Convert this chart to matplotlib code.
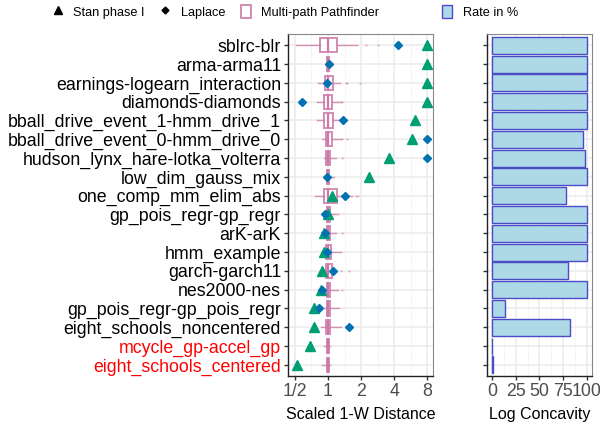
import matplotlib
matplotlib.use("Agg")
import matplotlib.pyplot as plt
import numpy as np
from matplotlib.lines import Line2D
from matplotlib.patches import Patch
from matplotlib.ticker import FixedLocator, NullFormatter

plt.rcParams['font.family'] = ['Liberation Sans', 'DejaVu Sans']

models = [
    "sblrc-blr",
    "arma-arma11",
    "earnings-logearn_interaction",
    "diamonds-diamonds",
    "bball_drive_event_1-hmm_drive_1",
    "bball_drive_event_0-hmm_drive_0",
    "hudson_lynx_hare-lotka_volterra",
    "low_dim_gauss_mix",
    "one_comp_mm_elim_abs",
    "gp_pois_regr-gp_regr",
    "arK-arK",
    "hmm_example",
    "garch-garch11",
    "nes2000-nes",
    "gp_pois_regr-gp_pois_regr",
    "eight_schools_noncentered",
    "mcycle_gp-accel_gp",
    "eight_schools_centered",
]
red_models = ["mcycle_gp-accel_gp", "eight_schools_centered"]

# multi-path pathfinder box stats (scaled 1-W distance)
pf_whislo = [0.51, 0.93, 0.81, 0.80, 0.79, 0.89, 0.92, 0.95, 0.76, 0.92,
             0.89, 0.87, 0.89, 0.92, 0.92, 0.87, 0.92, 0.89]
pf_q1 = [0.85, 0.98, 0.93, 0.92, 0.92, 0.96, 0.96, 0.97, 0.92, 0.97,
         0.97, 0.95, 0.95, 0.97, 0.97, 0.96, 0.97, 0.97]
pf_med = [1.0, 1.0, 1.0, 1.0, 1.0, 1.0, 1.0, 1.0, 1.0, 1.0,
          1.0, 1.0, 1.0, 1.0, 1.0, 1.0, 1.0, 1.0]
pf_q3 = [1.21, 1.03, 1.11, 1.09, 1.11, 1.09, 1.04, 1.03, 1.20, 1.04,
         1.04, 1.07, 1.08, 1.04, 1.04, 1.04, 1.03, 1.03]
pf_whishi = [1.85, 1.10, 1.28, 1.31, 1.50, 1.31, 1.18, 1.13, 1.67, 1.18,
             1.18, 1.31, 1.18, 1.22, 1.26, 1.31, 1.04, 1.04]
pf_fliers = [[2.2, 2.83], [], [1.45, 1.5, 1.95], [1.35], [], [1.35, 1.48],
             [1.35], [], [1.79, 1.89], [1.22], [1.35], [], [1.31, 1.56],
             [1.35], [], [], [], []]

stan_phase1 = [8.0, 8.0, 8.0, 8.0, 6.23, 5.8, 3.6, 2.35, 1.08, 1.0,
               0.92, 0.91, 0.88, 0.87, 0.75, 0.74, 0.68, 0.52]
laplace = [4.35, 1.03, 0.97, 0.58, 1.37, 8.0, 8.0, 0.97, 1.43, 0.94,
           0.94, 0.97, 1.11, 0.88, 0.83, 1.56, np.nan, np.nan]

log_concavity_rate = [100, 100, 100, 100, 100, 96, 98, 100, 78, 100,
                      100, 100, 80, 100, 14, 82, 0.4, 1.5]

pink = "#CC79A7"
green = "#009E73"
blue = "#0072B2"
grid_major = "#EBEBEB"
grid_minor = "#F4F4F4"

n = len(models)
ypos = np.arange(n)[::-1]

fig = plt.figure(figsize=(6, 4.25), dpi=100)
ax = fig.add_axes([0.48, 0.115, 0.242, 0.805])
ax2 = fig.add_axes([0.812, 0.115, 0.174, 0.805])

# left panel
stats = []
for i in range(n):
    stats.append(dict(whislo=pf_whislo[i], q1=pf_q1[i], med=pf_med[i],
                      q3=pf_q3[i], whishi=pf_whishi[i], fliers=pf_fliers[i]))
ax.bxp(stats, positions=ypos, vert=False, widths=0.75, patch_artist=True,
       showcaps=False,
       boxprops=dict(facecolor="white", edgecolor=pink, linewidth=1.4, alpha=0.85),
       medianprops=dict(color=pink, linewidth=1.6),
       whiskerprops=dict(color=pink, linewidth=1.0, alpha=0.8),
       flierprops=dict(marker="o", markersize=1.5, markerfacecolor=pink,
                       markeredgecolor="none", alpha=0.6),
       zorder=3)
ax.plot(stan_phase1, ypos, linestyle="none", marker="^", markersize=7,
        color=green, zorder=5, clip_on=False)
ax.plot(laplace, ypos, linestyle="none", marker="D", markersize=4,
        color=blue, zorder=6, clip_on=False)

ax.set_xscale("log", base=2)
ax.set_xlim(2 ** -1.21, 2 ** 3.18)
ax.set_ylim(-0.6, n - 0.4)
ax.xaxis.set_major_locator(FixedLocator([0.5, 1, 2, 4, 8]))
ax.set_xticklabels(["1/2", "1", "2", "4", "8"])
ax.xaxis.set_minor_locator(FixedLocator([2 ** -0.5, 2 ** 0.5, 2 ** 1.5, 2 ** 2.5]))
ax.xaxis.set_minor_formatter(NullFormatter())
ax.set_yticks(ypos)
ax.set_yticklabels(models)
for lbl in ax.get_yticklabels():
    if lbl.get_text() in red_models:
        lbl.set_color("red")
ax.set_xlabel("Scaled 1-W Distance", fontsize=11.5, labelpad=5)

# right panel
ax2.barh(ypos, log_concavity_rate, height=0.9, color="#ADD8E6",
         edgecolor="#4B4BC8", linewidth=1.0, zorder=3)
ax2.set_xlim(-5, 105)
ax2.set_ylim(-0.6, n - 0.4)
ax2.set_xticks([0, 25, 50, 75, 100])
ax2.xaxis.set_minor_locator(FixedLocator([12.5, 37.5, 62.5, 87.5]))
ax2.set_yticks(ypos)
ax2.set_yticklabels([])
ax2.set_xlabel("Log Concavity", fontsize=11.5, labelpad=5)

for a in (ax, ax2):
    a.grid(True, which="major", color=grid_major, linewidth=1.1, zorder=0)
    a.grid(True, which="minor", axis="x", color=grid_minor, linewidth=0.6, zorder=0)
    a.set_axisbelow(True)
    a.tick_params(axis="y", which="major", labelsize=12.8, length=3,
                  width=1, color="#333333", pad=2)
    a.tick_params(axis="x", which="major", labelsize=12.8, length=3,
                  width=1, color="#333333", labelcolor="#4D4D4D", pad=2)
    a.tick_params(axis="x", which="minor", length=0)
    for s in ("top", "right"):
        a.spines[s].set_color("#888888")
        a.spines[s].set_linewidth(0.8)
    for s in ("left", "bottom"):
        a.spines[s].set_color("#222222")
        a.spines[s].set_linewidth(1.0)

# legends
handles = [
    Line2D([], [], linestyle="none", marker="^", markersize=6, color="black"),
    Line2D([], [], linestyle="none", marker="D", markersize=3.5, color="black"),
    Patch(facecolor="white", edgecolor=pink, linewidth=1.2),
]
fig.legend(handles, ["Stan phase I", "Laplace", "Multi-path Pathfinder"],
           loc="center", bbox_to_anchor=(0.36, 0.972), ncol=3, frameon=False,
           fontsize=9.2, handlelength=0.8, handleheight=1.2, handletextpad=0.8,
           columnspacing=1.2)
fig.legend([Patch(facecolor="#ADD8E6", edgecolor="#4B4BC8", linewidth=1.0)],
           ["Rate in %"], loc="center", bbox_to_anchor=(0.8, 0.972),
           frameon=False, fontsize=9.2, handlelength=0.8, handleheight=1.2,
           handletextpad=0.8)

fig.savefig("out.png", dpi=100)
